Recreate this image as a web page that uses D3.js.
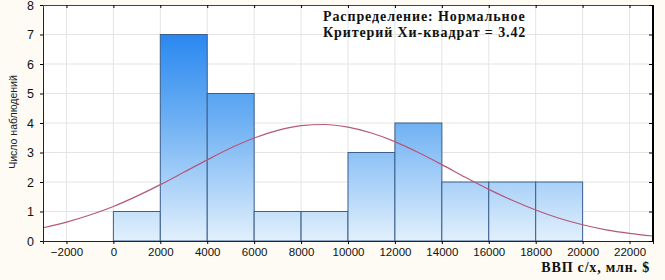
<!DOCTYPE html>
<html>
<head>
<meta charset="utf-8">
<script src="https://cdn.jsdelivr.net/npm/d3@7"></script>
<style>
  body { margin: 0; background: #fdfbf3; }
  svg { display: block; }
</style>
</head>
<body>
<svg id="hist" width="665" height="280"></svg>
<script>
// bins of the histogram (start of each 2000-wide bin) and counts
const binStarts = [0, 2000, 4000, 6000, 8000, 10000, 12000, 14000, 16000, 18000]
const counts = [1, 7, 5, 1, 1, 3, 4, 2, 2, 2]
const binWidth = 2000

// fitted normal curve at each 1000
const curveX = [-3000, -2000, -1000, 0, 1000, 2000, 3000, 4000, 5000, 6000, 7000, 8000, 9000,
  10000, 11000, 12000, 13000, 14000, 15000, 16000, 17000, 18000, 19000, 20000, 21000, 22000, 23000]
const curveY = [0.45, 0.64, 0.88, 1.17, 1.52, 1.91, 2.33, 2.75, 3.15, 3.49, 3.75, 3.91, 3.95,
  3.86, 3.66, 3.37, 3.0, 2.59, 2.16, 1.75, 1.38, 1.05, 0.77, 0.55, 0.38, 0.26, 0.17]

const xTicks = [-2000, 0, 2000, 4000, 6000, 8000, 10000, 12000, 14000, 16000, 18000, 20000, 22000]
const yTicks = [0, 1, 2, 3, 4, 5, 6, 7, 8]

const svg = d3.select("#hist")
const plotL = 43, plotR = 653, plotT = 5, plotB = 241

const x = d3.scaleLinear().domain([-3000, 23000]).range([plotL, plotR])
const y = d3.scaleLinear().domain([0, 8]).range([plotB, plotT])

// plot background
svg.append("rect")
    .attr("x", plotL).attr("y", plotT)
    .attr("width", plotR - plotL).attr("height", plotB - plotT)
    .attr("fill", "#ffffff")

// gradient for bars (dark on top, light at the bottom)
const grad = svg.append("defs").append("linearGradient")
    .attr("id", "barGrad")
    .attr("gradientUnits", "userSpaceOnUse")
    .attr("x1", 0).attr("x2", 0)
    .attr("y1", y(7)).attr("y2", y(0))
grad.append("stop").attr("offset", "0%").attr("stop-color", "#2a88f0")
grad.append("stop").attr("offset", "40%").attr("stop-color", "#6aaef3")
grad.append("stop").attr("offset", "100%").attr("stop-color", "#e2f0fc")

// grid lines
svg.append("g")
    .selectAll("line")
    .data(xTicks)
    .enter()
    .append("line")
    .attr("x1", d => x(d)).attr("x2", d => x(d))
    .attr("y1", plotT).attr("y2", plotB)
    .attr("stroke", "#e4e4e4")
svg.append("g")
    .selectAll("line")
    .data(yTicks.slice(1, -1))
    .enter()
    .append("line")
    .attr("x1", plotL).attr("x2", plotR)
    .attr("y1", d => y(d)).attr("y2", d => y(d))
    .attr("stroke", "#e4e4e4")

// bars
svg.append("g")
    .selectAll("rect")
    .data(binStarts)
    .enter()
    .append("rect")
    .attr("x", (d, i) => x(d))
    .attr("y", (d, i) => y(counts[i]))
    .attr("width", d => x(d + binWidth) - x(d))
    .attr("height", (d, i) => y(0) - y(counts[i]))
    .attr("fill", "url(#barGrad)")
    .attr("stroke", "#3c5f8c")
    .attr("stroke-width", 1)

// normal curve
const line = d3.line()
    .x((d, i) => x(curveX[i]))
    .y((d, i) => y(curveY[i]))
    .curve(d3.curveMonotoneX)
svg.append("path")
    .datum(curveX)
    .attr("d", line)
    .attr("fill", "none")
    .attr("stroke", "#b4587a")
    .attr("stroke-width", 1.2)

// axes
const yAxis = svg.append("g")
    .attr("transform", `translate(${plotL},0)`)
    .call(d3.axisLeft(y).tickValues(yTicks).tickSize(3).tickPadding(6))
yAxis.select(".domain").attr("stroke", "#222")
yAxis.selectAll("text")
    .style("font-family", "Liberation Sans, Arial, sans-serif")
    .style("font-size", "12.5px")
    .attr("fill", "#111")

const xAxis = svg.append("g")
    .attr("transform", `translate(0,${plotB})`)
    .call(d3.axisBottom(x).tickValues(xTicks).tickSize(3).tickPadding(4).tickFormat(d3.format("d")))
xAxis.select(".domain").attr("stroke", "#222")
xAxis.selectAll("text")
    .style("font-family", "Liberation Sans, Arial, sans-serif")
    .style("font-size", "11.5px")
    .attr("fill", "#111")

// top and right frame with inner ticks
svg.append("g")
    .attr("transform", `translate(0,${plotT})`)
    .call(d3.axisBottom(x).tickValues(xTicks).tickSize(3).tickFormat(""))
    .select(".domain").attr("stroke", "#444")
svg.append("line")
    .attr("x1", plotR).attr("x2", plotR)
    .attr("y1", plotT).attr("y2", plotB + 1)
    .attr("stroke", "#000")
    .attr("stroke-width", 2)
svg.append("g")
    .attr("transform", `translate(${plotR - 1},0)`)
    .call(d3.axisLeft(y).tickValues(yTicks).tickSize(3).tickFormat(""))
    .select(".domain").remove()

// titles
svg.append("text")
    .attr("x", 323)
    .attr("y", 21)
    .style("font-family", "Liberation Serif, Times New Roman, serif")
    .style("font-weight", "bold")
    .style("font-size", "14px")
    .style("letter-spacing", "0.9px")
    .style("fill", "#111")
    .text("Распределение: Нормальное")
svg.append("text")
    .attr("x", 323)
    .attr("y", 37)
    .style("font-family", "Liberation Serif, Times New Roman, serif")
    .style("font-weight", "bold")
    .style("font-size", "14px")
    .style("letter-spacing", "0.9px")
    .style("fill", "#111")
    .text("Критерий Хи-квадрат = 3.42")

svg.append("text")
    .attr("x", 650)
    .attr("y", 272)
    .attr("text-anchor", "end")
    .style("font-family", "Liberation Serif, Times New Roman, serif")
    .style("font-weight", "bold")
    .style("font-size", "14px")
    .style("letter-spacing", "0.8px")
    .style("fill", "#111")
    .text("ВВП с/х, млн. $")

svg.append("text")
    .attr("transform", "translate(17,122) rotate(-90)")
    .attr("text-anchor", "middle")
    .style("font-family", "Liberation Sans, Arial, sans-serif")
    .style("font-size", "10.5px")
    .style("fill", "#222")
    .text("Число наблюдений")
</script>
</body>
</html>
